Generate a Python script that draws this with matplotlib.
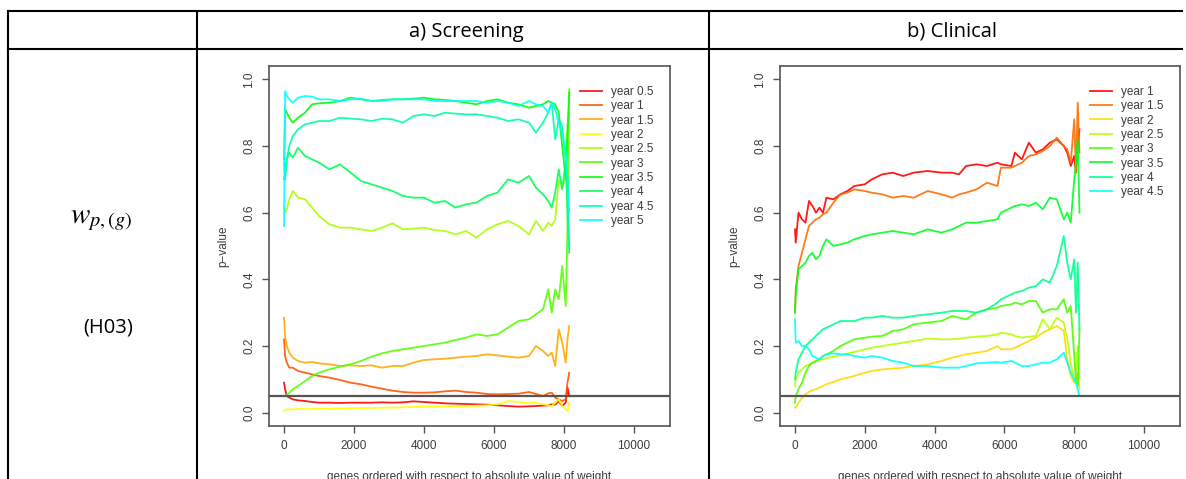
import numpy as np
import matplotlib
matplotlib.use("Agg")
import matplotlib.pyplot as plt
from matplotlib.lines import Line2D
from matplotlib.colors import hsv_to_rgb

W, H = 1186, 479

# ---- a) Screening -------------------------------------------------------
xs_a = [0, 30, 80, 150, 250, 400, 600, 800, 1000, 1300, 1600, 1900, 2200, 2500,
        2800, 3100, 3400, 3700, 4000, 4300, 4600, 4900, 5200, 5500, 5800, 6100,
        6400, 6700, 7000, 7200, 7400, 7550, 7650, 7750, 7850, 7950, 8050, 8100, 8150]
labels_a = ["year 0.5", "year 1", "year 1.5", "year 2", "year 2.5",
            "year 3", "year 3.5", "year 4", "year 4.5", "year 5"]

a_y05 = [0.09, 0.07, 0.05, 0.045, 0.04, 0.037, 0.035, 0.032, 0.03, 0.03, 0.029, 0.03, 0.03, 0.03,
         0.031, 0.03, 0.031, 0.034, 0.032, 0.03, 0.028, 0.027, 0.026, 0.025, 0.024, 0.022,
         0.02, 0.018, 0.019, 0.02, 0.021, 0.022, 0.025, 0.024, 0.035, 0.02, 0.03, 0.075, 0.05]
a_y1 = [0.22, 0.17, 0.15, 0.135, 0.135, 0.125, 0.12, 0.115, 0.11, 0.105, 0.098, 0.09, 0.085, 0.078,
        0.072, 0.066, 0.062, 0.06, 0.06, 0.061, 0.064, 0.066, 0.062, 0.06, 0.056, 0.055,
        0.056, 0.057, 0.062, 0.056, 0.05, 0.058, 0.06, 0.045, 0.04, 0.035, 0.04, 0.09, 0.12]
a_y15 = [0.285, 0.23, 0.2, 0.18, 0.165, 0.155, 0.15, 0.152, 0.148, 0.145, 0.14, 0.142, 0.14, 0.142,
         0.135, 0.14, 0.14, 0.15, 0.158, 0.16, 0.162, 0.165, 0.168, 0.17, 0.175, 0.172,
         0.168, 0.165, 0.17, 0.2, 0.185, 0.17, 0.18, 0.14, 0.25, 0.21, 0.15, 0.22, 0.26]
a_y2 = [0.005, 0.008, 0.01, 0.01, 0.01, 0.011, 0.011, 0.012, 0.012, 0.012, 0.013, 0.013, 0.014, 0.014,
        0.015, 0.015, 0.016, 0.017, 0.018, 0.018, 0.019, 0.02, 0.02, 0.021, 0.022, 0.025,
        0.035, 0.032, 0.03, 0.03, 0.025, 0.022, 0.02, 0.03, 0.04, 0.02, 0.01, 0.005, 0.03]
a_y25 = [0.62, 0.6, 0.61, 0.64, 0.665, 0.645, 0.64, 0.615, 0.59, 0.565, 0.555, 0.555, 0.55, 0.545,
         0.555, 0.568, 0.55, 0.552, 0.555, 0.548, 0.545, 0.535, 0.545, 0.525, 0.55, 0.565,
         0.575, 0.56, 0.535, 0.575, 0.545, 0.57, 0.56, 0.58, 0.7, 0.68, 0.7, 0.85, 0.9]
a_y3 = [0.05, 0.05, 0.055, 0.06, 0.07, 0.08, 0.095, 0.11, 0.12, 0.13, 0.138, 0.145, 0.155, 0.168,
        0.178, 0.185, 0.19, 0.195, 0.2, 0.205, 0.21, 0.218, 0.225, 0.235, 0.23, 0.235,
        0.255, 0.275, 0.28, 0.295, 0.31, 0.37, 0.3, 0.37, 0.34, 0.44, 0.32, 0.55, 0.97]
a_y35 = [0.76, 0.91, 0.9, 0.885, 0.87, 0.885, 0.9, 0.925, 0.928, 0.93, 0.935, 0.945, 0.94, 0.935,
         0.938, 0.94, 0.94, 0.942, 0.945, 0.94, 0.938, 0.935, 0.93, 0.925, 0.935, 0.94,
         0.93, 0.925, 0.915, 0.92, 0.925, 0.935, 0.93, 0.925, 0.9, 0.8, 0.7, 0.85, 0.96]
a_y4 = [0.7, 0.72, 0.76, 0.78, 0.765, 0.795, 0.77, 0.76, 0.75, 0.73, 0.745, 0.72, 0.695, 0.685,
        0.675, 0.665, 0.65, 0.645, 0.645, 0.63, 0.635, 0.615, 0.625, 0.63, 0.65, 0.66,
        0.7, 0.69, 0.71, 0.675, 0.655, 0.635, 0.615, 0.66, 0.73, 0.67, 0.75, 0.6, 0.48]
a_y45 = [0.75, 0.7, 0.76, 0.8, 0.83, 0.85, 0.865, 0.87, 0.875, 0.875, 0.885, 0.882, 0.88, 0.875,
         0.882, 0.88, 0.87, 0.89, 0.895, 0.89, 0.9, 0.897, 0.895, 0.895, 0.89, 0.885,
         0.875, 0.88, 0.87, 0.84, 0.87, 0.9, 0.93, 0.82, 0.88, 0.86, 0.75, 0.7, 0.5]
a_y5 = [0.56, 0.965, 0.95, 0.94, 0.93, 0.945, 0.95, 0.948, 0.94, 0.94, 0.935, 0.94, 0.942, 0.935,
        0.935, 0.94, 0.94, 0.94, 0.94, 0.935, 0.935, 0.935, 0.935, 0.935, 0.93, 0.935,
        0.93, 0.92, 0.935, 0.925, 0.92, 0.9, 0.93, 0.91, 0.87, 0.84, 0.78, 0.7, 0.6]

# ---- b) Clinical --------------------------------------------------------
xs_b = [0, 20, 100, 200, 300, 400, 500, 600, 700, 800, 900, 1100, 1300, 1500, 1700,
        2000, 2200, 2500, 2800, 3100, 3400, 3800, 4200, 4500, 4700, 4900, 5200, 5500,
        5800, 5900, 6200, 6300, 6500, 6700, 6900, 7100, 7300, 7500, 7700, 7800, 7900,
        8000, 8050, 8100, 8150]
labels_b = ["year 1", "year 1.5", "year 2", "year 2.5",
            "year 3", "year 3.5", "year 4", "year 4.5"]

b_y1 = [0.55, 0.51, 0.6, 0.58, 0.57, 0.635, 0.62, 0.6, 0.615, 0.6, 0.645, 0.64, 0.655, 0.665, 0.68,
        0.685, 0.7, 0.715, 0.72, 0.71, 0.72, 0.725, 0.72, 0.72, 0.715, 0.74, 0.745, 0.74,
        0.75, 0.745, 0.74, 0.78, 0.76, 0.81, 0.78, 0.79, 0.81, 0.82, 0.8, 0.78, 0.74,
        0.77, 0.72, 0.8, 0.85]
b_y15 = [0.3, 0.37, 0.44, 0.48, 0.52, 0.56, 0.57, 0.58, 0.585, 0.595, 0.6, 0.63, 0.655, 0.66, 0.67,
         0.665, 0.66, 0.655, 0.645, 0.65, 0.645, 0.665, 0.655, 0.645, 0.655, 0.66, 0.67, 0.69,
         0.68, 0.735, 0.735, 0.74, 0.75, 0.77, 0.775, 0.785, 0.8, 0.825, 0.8, 0.79, 0.75,
         0.88, 0.72, 0.93, 0.78]
b_y2 = [0.015, 0.015, 0.03, 0.045, 0.055, 0.062, 0.068, 0.07, 0.075, 0.08, 0.085, 0.092, 0.1, 0.105, 0.11,
        0.12, 0.125, 0.13, 0.132, 0.135, 0.14, 0.145, 0.155, 0.165, 0.17, 0.175, 0.18, 0.185,
        0.2, 0.19, 0.19, 0.195, 0.205, 0.215, 0.225, 0.24, 0.25, 0.26, 0.245, 0.16, 0.11,
        0.09, 0.1, 0.12, 0.07]
b_y25 = [0.08, 0.1, 0.12, 0.13, 0.14, 0.145, 0.15, 0.155, 0.158, 0.16, 0.163, 0.168, 0.172, 0.178, 0.182,
         0.19, 0.195, 0.2, 0.205, 0.21, 0.215, 0.222, 0.22, 0.22, 0.222, 0.225, 0.228, 0.23,
         0.235, 0.24, 0.235, 0.23, 0.225, 0.228, 0.23, 0.28, 0.25, 0.285, 0.27, 0.22, 0.15,
         0.09, 0.12, 0.2, 0.1]
b_y3 = [0.03, 0.05, 0.07, 0.09, 0.12, 0.14, 0.15, 0.155, 0.16, 0.17, 0.175, 0.185, 0.2, 0.21, 0.22,
        0.225, 0.228, 0.23, 0.245, 0.25, 0.265, 0.27, 0.275, 0.29, 0.285, 0.28, 0.3, 0.31,
        0.315, 0.32, 0.325, 0.33, 0.325, 0.335, 0.335, 0.3, 0.31, 0.31, 0.34, 0.3, 0.32,
        0.17, 0.1, 0.08, 0.25]
b_y35 = [0.3, 0.35, 0.43, 0.44, 0.45, 0.47, 0.48, 0.46, 0.47, 0.5, 0.52, 0.5, 0.505, 0.51, 0.52,
         0.53, 0.535, 0.54, 0.545, 0.54, 0.535, 0.55, 0.54, 0.55, 0.56, 0.57, 0.57, 0.575,
         0.58, 0.6, 0.615, 0.62, 0.625, 0.62, 0.63, 0.61, 0.645, 0.64, 0.58, 0.6, 0.57,
         0.7, 0.75, 0.82, 0.6]
b_y4 = [0.1, 0.12, 0.16, 0.18, 0.2, 0.21, 0.22, 0.23, 0.24, 0.25, 0.255, 0.265, 0.275, 0.275, 0.275,
        0.285, 0.285, 0.29, 0.285, 0.285, 0.29, 0.295, 0.3, 0.305, 0.305, 0.305, 0.3, 0.31,
        0.33, 0.34, 0.355, 0.36, 0.365, 0.375, 0.38, 0.4, 0.39, 0.44, 0.53, 0.45, 0.4,
        0.46, 0.3, 0.45, 0.25]
b_y45 = [0.28, 0.21, 0.215, 0.2, 0.2, 0.19, 0.17, 0.165, 0.16, 0.17, 0.175, 0.178, 0.175, 0.175, 0.17,
         0.165, 0.17, 0.165, 0.155, 0.15, 0.14, 0.14, 0.135, 0.135, 0.135, 0.14, 0.148, 0.15,
         0.152, 0.15, 0.155, 0.15, 0.14, 0.14, 0.145, 0.15, 0.15, 0.16, 0.18, 0.15, 0.12,
         0.1, 0.09, 0.07, 0.05]

series_a = [a_y05, a_y1, a_y15, a_y2, a_y25, a_y3, a_y35, a_y4, a_y45, a_y5]
series_b = [b_y1, b_y15, b_y2, b_y25, b_y3, b_y35, b_y4, b_y45]

cutoff = 0.05
xticks = [0, 2000, 4000, 6000, 8000, 10000]
yticks = [0.0, 0.2, 0.4, 0.6, 0.8, 1.0]

TXT = "#3c3c3c"
FRAME = "#555555"
HEAD_FONT = ["Open Sans", "DejaVu Sans"]


def hue_colors(n):
    # R-style rainbow from red (h=0) to cyan (h=0.5)
    return [hsv_to_rgb((h, 1, 1)) for h in np.linspace(0, 0.5, n)]


def px(x, y):
    return x / W, 1 - y / H


def draw_panel(ax, xs, series, labels):
    cols = hue_colors(len(series))
    for ys, c, lab in zip(series, cols, labels):
        ax.plot(xs, ys, color=c, lw=1.3, alpha=0.9, label=lab)
    ax.axhline(cutoff, color=FRAME, lw=1.6)
    ax.set_xlim(-430, 11030)
    ax.set_ylim(-0.04, 1.04)
    ax.set_xticks(xticks)
    ax.set_yticks(yticks)
    ax.set_yticklabels([f"{t:.1f}" for t in yticks], rotation=90, va="center")
    ax.tick_params(direction="out", length=5, width=1, color=FRAME,
                   labelcolor=TXT, labelsize=8.5, pad=5)
    for s in ax.spines.values():
        s.set_color(FRAME)
        s.set_linewidth(1.2)
    ax.set_ylabel("p\u2212value", color=TXT, fontsize=8.5, labelpad=10)
    ax.set_xlabel("genes ordered with respect to absolute value of weight",
                  color=TXT, fontsize=8.5, labelpad=14)
    leg = ax.legend(loc="upper left", bbox_to_anchor=(0.775, 0.945), frameon=False,
                    fontsize=8.5, handlelength=1.85, handletextpad=0.8,
                    labelspacing=0.2, borderaxespad=0, borderpad=0)
    for t in leg.get_texts():
        t.set_color(TXT)


plt.rcParams["font.family"] = ["Liberation Sans", "DejaVu Sans"]
plt.rcParams["mathtext.fontset"] = "stix"

fig = plt.figure(figsize=(W / 100, H / 100), dpi=100)
ax_a = fig.add_axes([269 / W, 1 - 426 / H, 401 / W, 360 / H])
ax_b = fig.add_axes([780 / W, 1 - 426 / H, 400 / W, 360 / H])
draw_panel(ax_a, xs_a, series_a, labels_a)
draw_panel(ax_b, xs_b, series_b, labels_b)

# table grid around the panels
lw = 1.5
for (x0, y0), (x1, y1) in [((8, 11), (1182, 11)), ((8, 49), (1182, 49)),
                           ((8, 11), (8, 479)), ((197, 11), (197, 479)),
                           ((709, 11), (709, 479))]:
    fig.add_artist(Line2D([x0 / W, x1 / W], [1 - y0 / H, 1 - y1 / H],
                          transform=fig.transFigure, color="black", lw=lw))

fig.text(*px(466, 32), "a) Screening", ha="center", va="center",
         family=HEAD_FONT, fontsize=14.5)
fig.text(*px(952, 32), "b) Clinical", ha="center", va="center",
         family=HEAD_FONT, fontsize=14.5)
fig.text(*px(101, 219), r"$w_{p,(g)}$", ha="center", va="center", fontsize=21)
fig.text(*px(108, 327), "(H03)", ha="center", va="center",
         family=HEAD_FONT, fontsize=14.5)

fig.savefig("out.png", dpi=100)
